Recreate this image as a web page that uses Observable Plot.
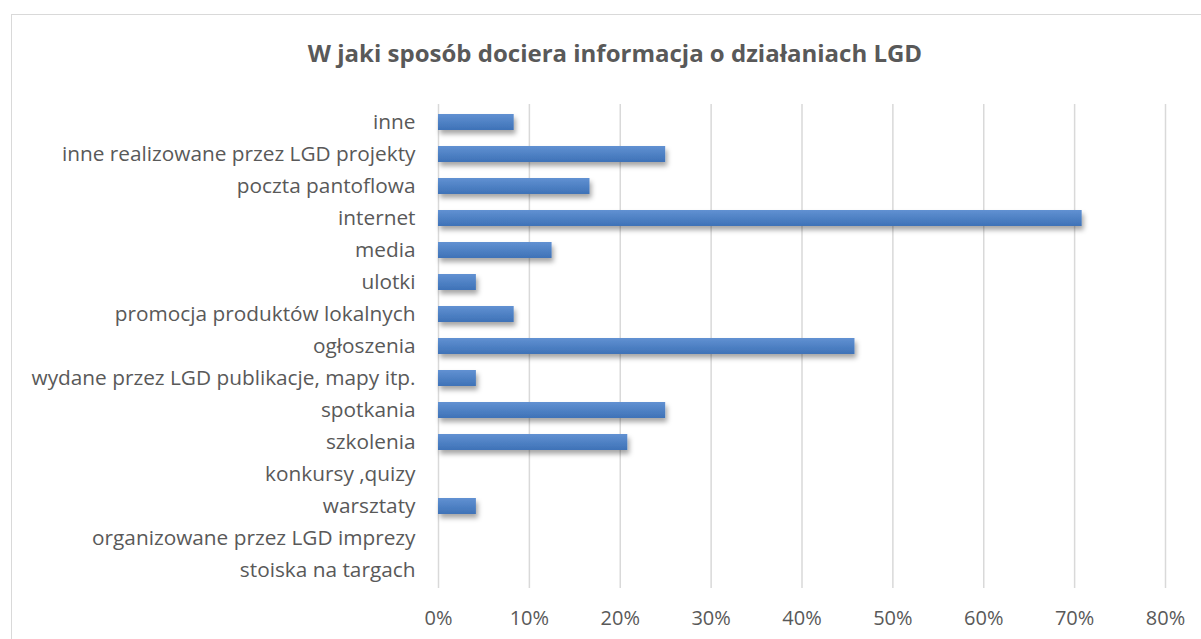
<!DOCTYPE html>
<html>
<head>
<meta charset="utf-8">
<script src="https://cdn.jsdelivr.net/npm/d3@7"></script>
<script src="https://cdn.jsdelivr.net/npm/@observablehq/plot@0.6"></script>
<style>
  html, body { margin: 0; padding: 0; background: #fff; }
  body { width: 1201px; height: 639px; overflow: hidden; position: relative; font-family: "Open Sans", sans-serif; }
  #frame { position: absolute; left: 11px; top: 14px; width: 1200px; height: 640px; border: 1px solid #d9d9d9; box-sizing: border-box; pointer-events: none; }
  #title { position: absolute; left: 0; top: 0; width: 1201px; height: 92px; }
  #title span { position: absolute; left: 615px; top: 52px; transform: translate(-50%, -50%); white-space: nowrap; font-weight: bold; font-size: 24px; color: #595959; }
  #chart { position: absolute; left: 0; top: 92px; }
</style>
</head>
<body>
<div id="title"><span>W jaki sposób dociera informacja o działaniach LGD</span></div>
<div id="chart"></div>
<div id="frame"></div>
<script>
const categories = [
  "inne",
  "inne realizowane przez LGD projekty",
  "poczta pantoflowa",
  "internet",
  "media",
  "ulotki",
  "promocja produktów lokalnych",
  "ogłoszenia",
  "wydane przez LGD publikacje, mapy itp.",
  "spotkania",
  "szkolenia",
  "konkursy ,quizy",
  "warsztaty",
  "organizowane przez LGD imprezy",
  "stoiska na targach"
];
const values = [0.0833, 0.25, 0.1667, 0.7083, 0.125, 0.0417, 0.0833, 0.4583, 0.0417, 0.25, 0.2083, 0, 0.0417, 0, 0];
const xTicks = [0, 0.1, 0.2, 0.3, 0.4, 0.5, 0.6, 0.7, 0.8];

const data = categories.map((c, i) => ({category: c, value: values[i]}));

const plot = Plot.plot({
  width: 1201,
  height: 547,
  marginLeft: 438,
  marginRight: 36,
  marginTop: 12,
  marginBottom: 51,
  style: {fontFamily: "'Open Sans', sans-serif", color: "#595959", background: "transparent"},
  x: {domain: [0, 0.8], label: null},
  y: {domain: categories, paddingInner: 0.5, paddingOuter: 0.25, label: null},
  marks: [
    Plot.gridX(xTicks, {stroke: "#d9d9d9", strokeOpacity: 1, strokeWidth: 1.5}),
    Plot.barX(data.filter(d => d.value > 0), {x: "value", y: "category", fill: "url(#barGrad)", className: "bars"}),
    Plot.axisX(xTicks, {tickFormat: d3.format(".0%"), tickSize: 0, tickPadding: 22, fontSize: 20, fill: "#595959", label: null}),
    Plot.axisY({tickSize: 0, tickPadding: 23, fontSize: 20.8, fill: "#595959", label: null})
  ]
});

const svg = d3.select(plot);
const defs = svg.insert("defs", ":first-child");
const g = defs.append("linearGradient").attr("id", "barGrad").attr("x1", 0).attr("y1", 0).attr("x2", 0).attr("y2", 1);
g.append("stop").attr("offset", "0%").attr("stop-color", "#6191d2");
g.append("stop").attr("offset", "100%").attr("stop-color", "#3e72b7");
const f = defs.append("filter").attr("id", "barShadow").attr("x", "-10%").attr("y", "-50%").attr("width", "130%").attr("height", "250%");
f.append("feDropShadow").attr("dx", 2).attr("dy", 4).attr("stdDeviation", 2.5).attr("flood-color", "#000").attr("flood-opacity", 0.35);
svg.selectAll("g.bars").attr("filter", "url(#barShadow)");

document.getElementById("chart").appendChild(plot);
</script>
</body>
</html>
